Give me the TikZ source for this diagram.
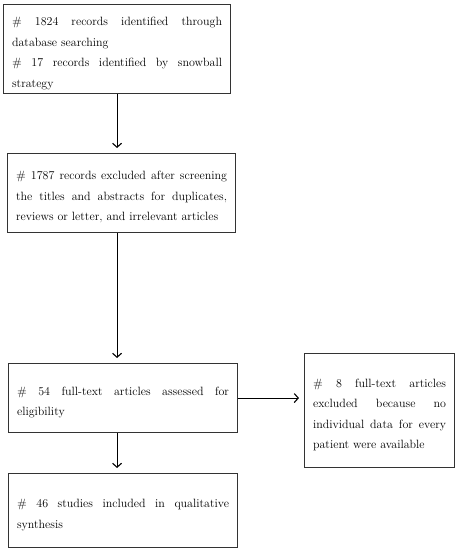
\documentclass[tikz,border=0pt]{standalone}
\usetikzlibrary{arrows.meta}
\hyphenpenalty=10000
\tolerance=9999
\tikzset{
	stepbox/.style={draw=black!80, line width=1.1pt, anchor=north west, align=justify,
		inner xsep=8.5pt, inner ysep=0pt, font=\fontsize{12}{20.5}\selectfont,
		execute at begin node={\rule{0pt}{17pt}}},
}
\begin{document}
\begin{tikzpicture}[x=1pt, y=-1pt, >={Straight Barb[length=4pt,width=9pt]}]
	\useasboundingbox (0,0) rectangle (456,550);
	\node[stepbox, text width=210pt, minimum height=89pt] (recs) at (3,4)
		{\# 1824 records identified through\linebreak database searching\\ \# 17 records identified by snowball\linebreak strategy};
	\node[stepbox, text width=211pt, minimum height=79pt] (screen) at (7,153)
		{\# 1787 records excluded after screening\linebreak the titles and abstracts for duplicates,\linebreak reviews or letter, and irrelevant articles};
	\node[stepbox, text width=212pt, minimum height=69pt] (fulltext) at (8,363)
		{\# 54 full-text articles assessed for\linebreak eligibility};
	\node[stepbox, text width=133pt, minimum height=114pt] (excl) at (304,353)
		{\# 8 full-text articles\linebreak excluded because no\linebreak individual data for every\linebreak patient were available};
	\node[stepbox, text width=212pt, minimum height=74pt] (incl) at (8,473)
		{\# 46 studies included in qualitative\linebreak synthesis};
	\path[line width=1.1pt, shorten >=5pt]
		(recs.south) edge[->] (recs.south |- screen.north)
		(recs.south |- screen.south) edge[->] (recs.south |- fulltext.north)
		(fulltext.east) edge[->] (excl.west |- fulltext.east)
		(recs.south |- fulltext.south) edge[->] (recs.south |- incl.north);
\end{tikzpicture}
\end{document}
